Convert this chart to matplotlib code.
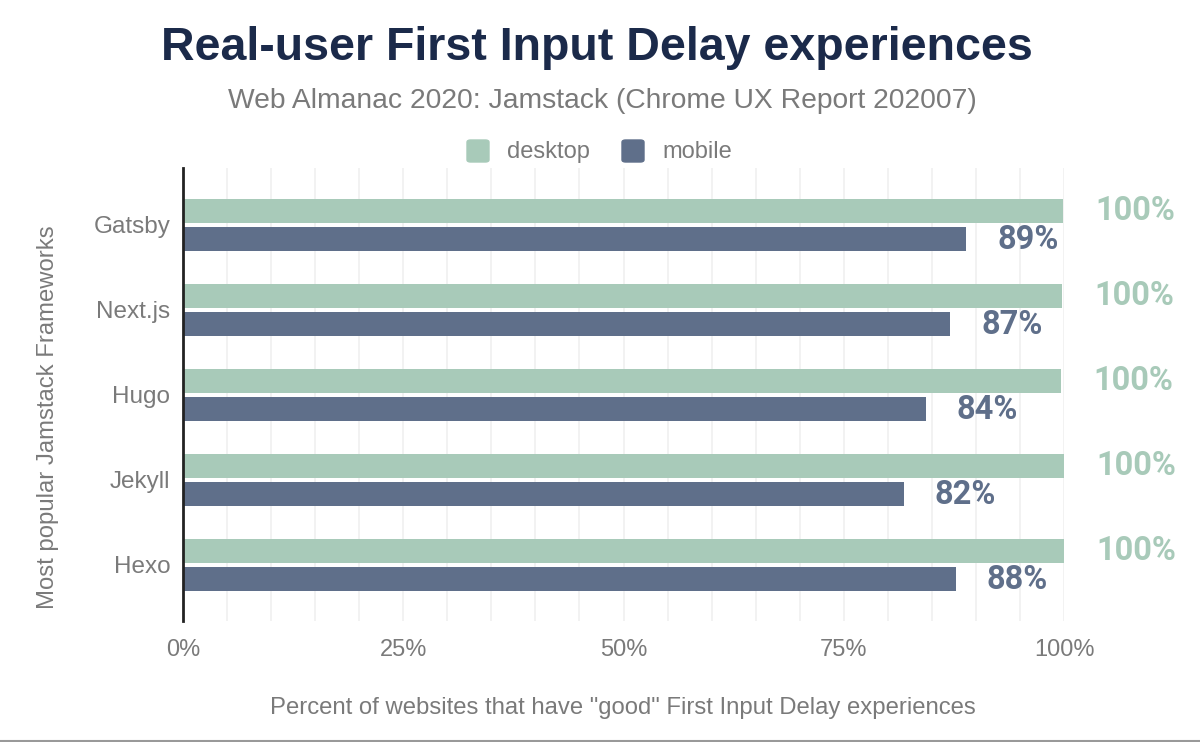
import matplotlib
matplotlib.use("Agg")
import matplotlib.pyplot as plt
from matplotlib.patches import FancyBboxPatch
import numpy as np

frameworks = ["Gatsby", "Next.js", "Hugo", "Jekyll", "Hexo"]
desktop = [99.9, 99.8, 99.7, 100.0, 100.0]
mobile = [88.9, 87.1, 84.3, 81.8, 87.7]
desktop_labels = ["100%", "100%", "100%", "100%", "100%"]
mobile_labels = ["89%", "87%", "84%", "82%", "88%"]
xticks = [0, 25, 50, 75, 100]
xtick_labels = ["0%", "25%", "50%", "75%", "100%"]

C_DESK = "#a8cab9"
C_MOB = "#5f6f8a"
C_TITLE = "#1b2a4a"
C_GRAY = "#7a7a7a"

W, H = 1200, 742
fig = plt.figure(figsize=(W / 100, H / 100), dpi=100)
ax = fig.add_axes([183 / W, 1 - 621 / H, (1064 - 183) / W, (621 - 168) / H])

y = np.arange(len(frameworks))
off = 0.165
bh = 0.28
ax.barh(y - off, desktop, height=bh, color=C_DESK, zorder=3)
ax.barh(y + off, mobile, height=bh, color=C_MOB, zorder=3)

ax.set_xlim(0, 100)
ax.set_ylim(4.66, -0.67)

for i in range(len(frameworks)):
    ax.text(desktop[i] + 12.7, y[i] - off, desktop_labels[i], ha="right", va="center",
            fontsize=23.5, fontweight="bold", family="Roboto", color=C_DESK, clip_on=False)
    ax.text(mobile[i] + 10.5, y[i] + off + 0.01, mobile_labels[i], ha="right", va="center",
            fontsize=23.5, fontweight="bold", family="Roboto", color=C_MOB, clip_on=False)

ax.set_xticks(np.arange(0, 101, 5), minor=True)
ax.set_xticks(xticks)
ax.set_xticklabels(xtick_labels, fontsize=17, color=C_GRAY, family="Liberation Sans")
ax.set_yticks(y)
ax.set_yticklabels(frameworks, fontsize=17.5, color=C_GRAY, family="Liberation Sans")
ax.tick_params(axis="both", which="both", length=0)
ax.tick_params(axis="x", pad=13)
ax.tick_params(axis="y", pad=9)
ax.grid(axis="x", which="both", color="#f0f0f0", linewidth=1.2, zorder=0)
for s in ["top", "right", "bottom"]:
    ax.spines[s].set_visible(False)
ax.spines["left"].set_color("#222222")
ax.spines["left"].set_linewidth(2)
ax.spines["left"].set_zorder(4)

ax.set_xlabel('Percent of websites that have "good" First Input Delay experiences',
              fontsize=17.2, color=C_GRAY, family="Liberation Sans")
ax.xaxis.set_label_coords((623 - 183) / 881, (621 - 697) / 453)
ax.set_ylabel("Most popular Jamstack Frameworks", fontsize=17.2, color=C_GRAY,
              family="Liberation Sans", va="center")
ax.yaxis.set_label_coords((48 - 183) / 881, (621 - 417) / 453)

fig.text(597 / W, 1 - 48 / H, "Real-user First Input Delay experiences", ha="center", va="center",
         fontsize=33.5, fontweight="heavy", color=C_TITLE, family="Liberation Sans")
fig.text(602 / W, 1 - 101 / H, "Web Almanac 2020: Jamstack (Chrome UX Report 202007)",
         ha="center", va="center", fontsize=20.3, color=C_GRAY, family="Liberation Sans")

# legend
for x0, col, lab in [(467, C_DESK, "desktop"), (622, C_MOB, "mobile")]:
    fig.patches.append(FancyBboxPatch((x0 / W, 1 - 162 / H), 22 / W, 22 / H,
                                      boxstyle="round,pad=0,rounding_size=0.003",
                                      transform=fig.transFigure, color=col))
    fig.text((x0 + 40) / W, 1 - 152 / H, lab, ha="left", va="center", fontsize=17,
             color=C_GRAY, family="Liberation Sans")

fig.add_artist(plt.Line2D([0, 1], [1 - 741 / H, 1 - 741 / H], color="#999999",
                          linewidth=1.5, transform=fig.transFigure))

fig.savefig("out.png", dpi=100, facecolor="white")
